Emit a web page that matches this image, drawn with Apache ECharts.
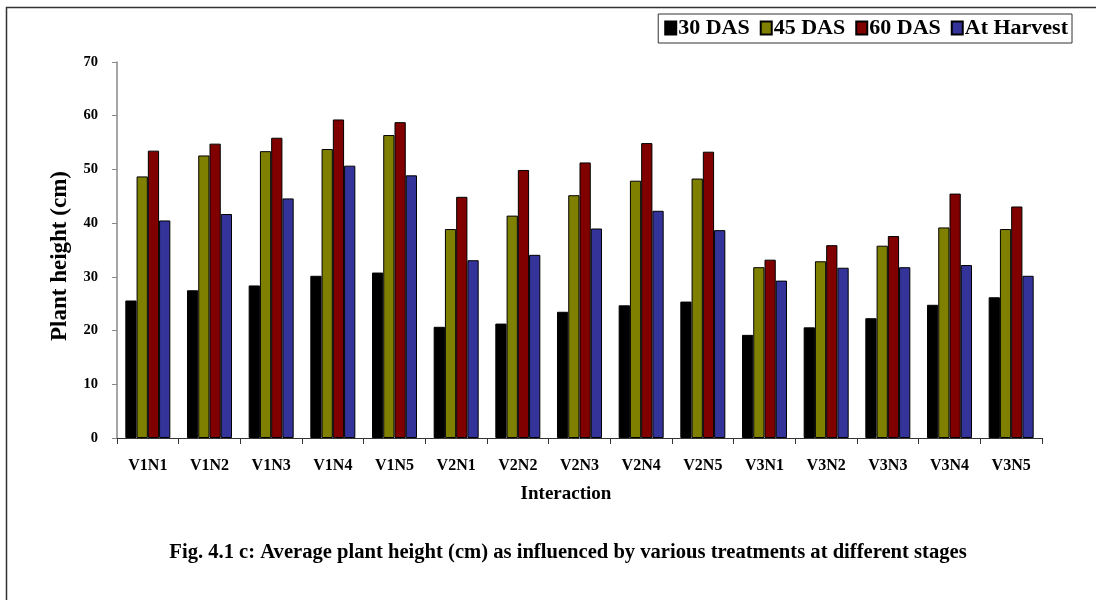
<!DOCTYPE html>
<html>
<head>
<meta charset="utf-8">
<script src="https://cdn.jsdelivr.net/npm/echarts@6/dist/echarts.min.js"></script>
<style>html,body{margin:0;padding:0;background:#fff}#c{width:1096px;height:600px}</style>
</head>
<body>
<div id="c"></div>
<script>
const categories = ['V1N1','V1N2','V1N3','V1N4','V1N5','V2N1','V2N2','V2N3','V2N4','V2N5','V3N1','V3N2','V3N3','V3N4','V3N5'];
const das30 = [25.6, 27.5, 28.4, 30.2, 30.8, 20.7, 21.3, 23.5, 24.7, 25.4, 19.2, 20.6, 22.3, 24.8, 26.2];
const das45 = [48.7, 52.6, 53.4, 53.8, 56.4, 38.9, 41.4, 45.2, 47.9, 48.3, 31.8, 32.9, 35.8, 39.2, 38.9];
const das60 = [53.5, 54.8, 55.9, 59.3, 58.8, 44.9, 49.9, 51.3, 54.9, 53.3, 33.2, 35.9, 37.6, 45.5, 43.1];
const harvest = [40.5, 41.7, 44.6, 50.7, 48.9, 33.1, 34.1, 39.0, 42.3, 38.7, 29.3, 31.7, 31.8, 32.2, 30.2];
const yTicks = [0, 10, 20, 30, 40, 50, 60, 70];

const font = '"Liberation Serif", "Times New Roman", serif';
const chart = echarts.init(document.getElementById('c'));
function bar(name, data, color) {
  return {
    name, type: 'bar', data,
    barGap: '0%', barCategoryGap: '27%',
    itemStyle: { color, borderColor: '#000', borderWidth: 1 },
    emphasis: { disabled: true }
  };
}
chart.setOption({
  animation: false,
  backgroundColor: '#fff',
  graphic: [{
    type: 'rect', left: 4, top: 5,
    shape: { width: 1200, height: 700 },
    style: { fill: 'none', stroke: '#333', lineWidth: 1.5 },
    silent: true
  }, {
    type: 'text', x: 568, y: 553,
    style: { text: 'Fig. 4.1 c: Average plant height (cm) as influenced by various treatments at different stages',
      font: 'bold 20.6px ' + font, fill: '#000', align: 'center', verticalAlign: 'middle' }
  }, {
    type: 'text', x: 566, y: 494,
    style: { text: 'Interaction', font: 'bold 19px ' + font, fill: '#000', align: 'center', verticalAlign: 'middle' }
  }, {
    type: 'text', x: 60, y: 256, rotation: Math.PI / 2,
    style: { text: 'Plant height (cm)', font: 'bold 23px ' + font, fill: '#000', align: 'center', verticalAlign: 'middle' }
  }],
  legend: {
    right: 24, top: 14,
    itemWidth: 11, itemHeight: 13, itemGap: 10,
    padding: [3, 4, 4, 6],
    borderColor: '#333', borderWidth: 1,
    textStyle: { fontFamily: font, fontWeight: 'bold', fontSize: 22, color: '#000', padding: [0, 0, 0, -3] },
    data: ['30 DAS', '45 DAS', '60 DAS', 'At Harvest'],
    icon: 'rect'
  },
  grid: { left: 117, right: 54, top: 62, bottom: 162 },
  xAxis: {
    type: 'category', data: categories,
    axisLine: { lineStyle: { color: '#333', width: 1 } },
    axisTick: { show: true, length: 6, alignWithLabel: false, lineStyle: { color: '#333' } },
    axisLabel: { fontFamily: font, fontWeight: 'bold', fontSize: 16, color: '#000', margin: 20, interval: 0 }
  },
  yAxis: {
    type: 'value', min: yTicks[0], max: yTicks[yTicks.length - 1], interval: 10,
    axisLine: { show: true, lineStyle: { color: '#888', width: 1.5 } },
    axisTick: { show: true, length: 5, lineStyle: { color: '#888' } },
    splitLine: { show: false },
    axisLabel: { fontFamily: font, fontWeight: 'bold', fontSize: 14.5, color: '#000', margin: 19 }
  },
  series: [
    bar('30 DAS', das30, '#000000'),
    bar('45 DAS', das45, '#808000'),
    bar('60 DAS', das60, '#800000'),
    bar('At Harvest', harvest, '#333399')
  ]
});
</script>
</body>
</html>
